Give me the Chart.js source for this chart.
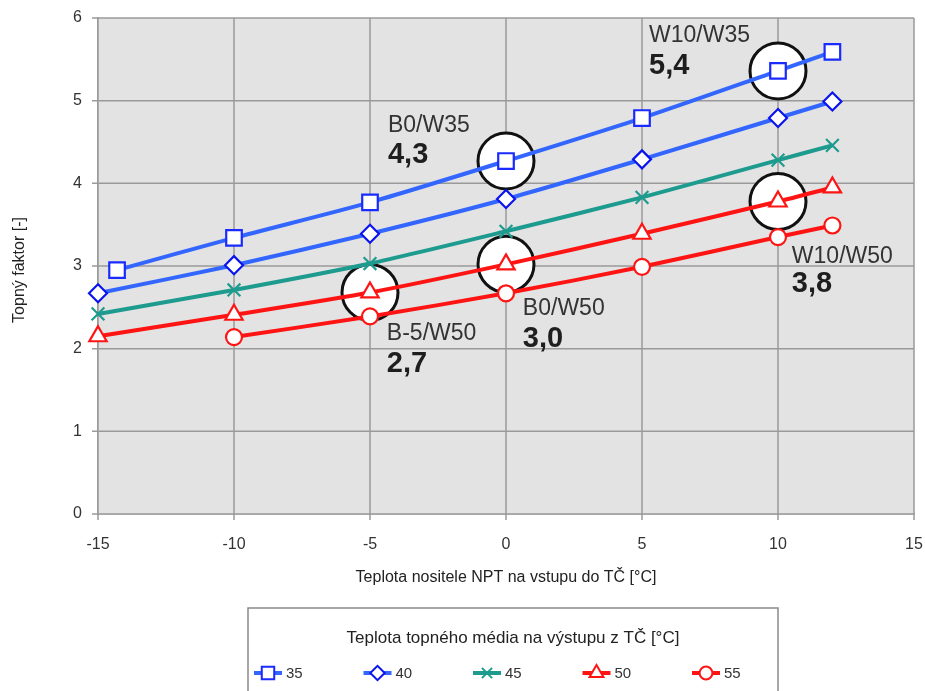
<!DOCTYPE html>
<html>
<head>
<meta charset="utf-8">
<script src="https://cdn.jsdelivr.net/npm/chart.js@4.4.1/dist/chart.umd.min.js"></script>
<style>
  html, body { margin: 0; padding: 0; background: #fff; }
  #wrap { width: 925px; height: 691px; position: relative; }
</style>
</head>
<body>
<div id="wrap"><canvas id="cop"></canvas></div>
<script>
// Outlet temperature of the heating medium (legend labels)
const seriesNames = ['35', '40', '45', '50', '55'];

// Brine inlet temperature (x) per series
const x35 = [-14.3, -10, -5, 0, 5, 10, 12];
const x40 = [-15, -10, -5, 0, 5, 10, 12];
const x45 = [-15, -10, -5, 0, 5, 10, 12];
const x50 = [-15, -10, -5, 0, 5, 10, 12];
const x55 = [-10, -5, 0, 5, 10, 12];

// Heating factor (COP) values
const cop35 = [2.95, 3.34, 3.77, 4.27, 4.79, 5.36, 5.59];
const cop40 = [2.67, 3.01, 3.39, 3.81, 4.29, 4.79, 4.99];
const cop45 = [2.42, 2.71, 3.03, 3.42, 3.83, 4.28, 4.46];
const cop50 = [2.15, 2.41, 2.68, 3.02, 3.39, 3.78, 3.95];
const cop55 = [2.14, 2.39, 2.67, 2.99, 3.35, 3.49];

// Highlighted operating points
const markX = [0, -5, 0, 10, 10];
const markY = [4.27, 2.68, 3.02, 5.36, 3.78];
const markNames = ['B0/W35', 'B-5/W50', 'B0/W50', 'W10/W35', 'W10/W50'];
const markValues = ['4,3', '2,7', '3,0', '5,4', '3,8'];
// text anchor (left edge, label baseline, value baseline) in data units
const markTextX = [-4.34, -4.38, 0.62, 5.26, 10.51];
const markTextY = [4.62, 2.11, 2.41, 5.71, 3.04];
const markValueY = [4.25, 1.72, 2.02, 5.32, 2.68];

// Axis ticks
const xTicks = [-15, -10, -5, 0, 5, 10, 15];
const yTicks = [0, 1, 2, 3, 4, 5, 6];

const xTitle = 'Teplota nositele NPT na vstupu do TČ [°C]';
const yTitle = 'Topný faktor [-]';
const legendTitle = 'Teplota topného média na výstupu z TČ [°C]';

const FONT = "'Liberation Sans', Arial, sans-serif";

const styles = [
  { line: '#3366ff', mark: '#1a2bff', point: 'rect', r: 11 },
  { line: '#3366ff', mark: '#0a14ee', point: 'rectRot', r: 9 },
  { line: '#1e9b8f', mark: '#1e9b8f', point: 'crossRot', r: 9 },
  { line: '#ff1414', mark: '#ff1414', point: 'triangle', r: 10 },
  { line: '#ff1414', mark: '#ff1414', point: 'circle', r: 8 },
];

const xs = [x35, x40, x45, x50, x55];
const ys = [cop35, cop40, cop45, cop50, cop55];

const datasets = seriesNames.map((name, i) => ({
  label: name,
  data: xs[i].map((x, j) => ({ x, y: ys[i][j] })),
  showLine: true,
  clip: false,
  borderColor: styles[i].line,
  borderWidth: 4,
  tension: 0.25,
  pointStyle: styles[i].point,
  pointRadius: styles[i].r,
  pointBorderColor: styles[i].mark,
  pointBackgroundColor: '#fff',
  pointBorderWidth: 2.2,
  order: 0,
}));

datasets.push({
  label: 'marks',
  data: markX.map((x, i) => ({ x, y: markY[i] })),
  showLine: false,
  clip: false,
  pointStyle: 'circle',
  pointRadius: 28,
  pointBorderWidth: 3,
  pointBorderColor: '#111',
  pointBackgroundColor: '#fff',
  order: 5,
});

const decorPlugin = {
  id: 'decor',
  beforeDatasetsDraw(chart) {
    const { ctx, chartArea: a } = chart;
    ctx.save();
    ctx.fillStyle = '#e3e3e3';
    ctx.fillRect(a.left, a.top, a.right - a.left, a.bottom - a.top);
    // gridlines on top of the background, with short outside tick marks
    const sx = chart.scales.x, sy = chart.scales.y;
    ctx.strokeStyle = '#9a9a9a';
    ctx.lineWidth = 1.5;
    xTicks.forEach(t => {
      const px = sx.getPixelForValue(t);
      ctx.beginPath(); ctx.moveTo(px, a.top); ctx.lineTo(px, a.bottom + 6); ctx.stroke();
    });
    yTicks.forEach(t => {
      const py = sy.getPixelForValue(t);
      ctx.beginPath(); ctx.moveTo(a.left - 6, py); ctx.lineTo(a.right, py); ctx.stroke();
    });
    ctx.restore();
  },
  afterDatasetsDraw(chart) {
    const { ctx } = chart;
    const sx = chart.scales.x, sy = chart.scales.y;
    ctx.save();
    ctx.textAlign = 'left';
    ctx.textBaseline = 'alphabetic';
    markNames.forEach((n, i) => {
      const px = sx.getPixelForValue(markTextX[i]);
      ctx.fillStyle = '#333';
      ctx.font = '23px ' + FONT;
      ctx.fillText(n, px, sy.getPixelForValue(markTextY[i]));
      ctx.fillStyle = '#1e1e1e';
      ctx.font = 'bold 29px ' + FONT;
      ctx.fillText(markValues[i], px, sy.getPixelForValue(markValueY[i]));
    });
    ctx.restore();
  },
  afterDraw(chart) {
    const { ctx, chartArea: a } = chart;
    ctx.save();
    ctx.fillStyle = '#222';
    ctx.font = '16px ' + FONT;
    ctx.textAlign = 'center';
    ctx.textBaseline = 'middle';
    ctx.fillText(xTitle, (a.left + a.right) / 2, 578);
    ctx.translate(20, (a.top + a.bottom) / 2 + 4);
    ctx.rotate(-Math.PI / 2);
    ctx.fillText(yTitle, 0, 0);
    ctx.restore();

    // legend box
    ctx.save();
    const box = { left: 248, top: 608, right: 778, bottom: 700 };
    ctx.strokeStyle = '#8a8a8a';
    ctx.lineWidth = 1.5;
    ctx.strokeRect(box.left, box.top, box.right - box.left, box.bottom - box.top);
    ctx.fillStyle = '#222';
    ctx.font = '17px ' + FONT;
    ctx.textAlign = 'center';
    ctx.textBaseline = 'middle';
    ctx.fillText(legendTitle, (box.left + box.right) / 2, 638);
    ctx.textAlign = 'left';
    ctx.font = '15px ' + FONT;
    seriesNames.forEach((n, i) => {
      const x0 = box.left + 6 + i * 109.5, y0 = 673;
      ctx.strokeStyle = styles[i].line;
      ctx.lineWidth = 4;
      ctx.beginPath(); ctx.moveTo(x0, y0); ctx.lineTo(x0 + 28, y0); ctx.stroke();
      ctx.fillStyle = '#fff';
      ctx.strokeStyle = styles[i].mark;
      ctx.lineWidth = 2;
      Chart.helpers.drawPoint(ctx, { pointStyle: styles[i].point, radius: styles[i].r * 0.8, rotation: 0, borderWidth: 2 }, x0 + 14, y0);
      ctx.fillStyle = '#333';
      ctx.fillText(n, x0 + 32, y0 + 1);
    });
    ctx.restore();
  }
};

new Chart(document.getElementById('cop'), {
  type: 'scatter',
  data: { datasets },
  options: {
    responsive: true,
    maintainAspectRatio: false,
    animation: false,
    layout: { autoPadding: false, padding: { top: 18, right: 11, left: 0, bottom: 0 } },
    plugins: { legend: { display: false }, tooltip: { enabled: false } },
    scales: {
      x: {
        type: 'linear', min: -15, max: 15,
        afterFit(s) { s.height = 177; s.paddingLeft = 0; s.paddingRight = 0; },
        afterBuildTicks(s) { s.ticks = xTicks.map(v => ({ value: v })); },
        grid: { display: false },
        border: { color: '#9a9a9a', width: 1.5 },
        ticks: { color: '#333', font: { family: FONT, size: 16 }, padding: 13 },
      },
      y: {
        type: 'linear', min: 0, max: 6,
        afterFit(s) { s.width = 98; s.paddingTop = 0; s.paddingBottom = 0; },
        afterBuildTicks(s) { s.ticks = yTicks.map(v => ({ value: v })); },
        grid: { display: false },
        border: { color: '#9a9a9a', width: 1.5 },
        ticks: { color: '#333', font: { family: FONT, size: 16 }, padding: 8 },
      }
    }
  },
  plugins: [decorPlugin],
});
</script>
</body>
</html>
